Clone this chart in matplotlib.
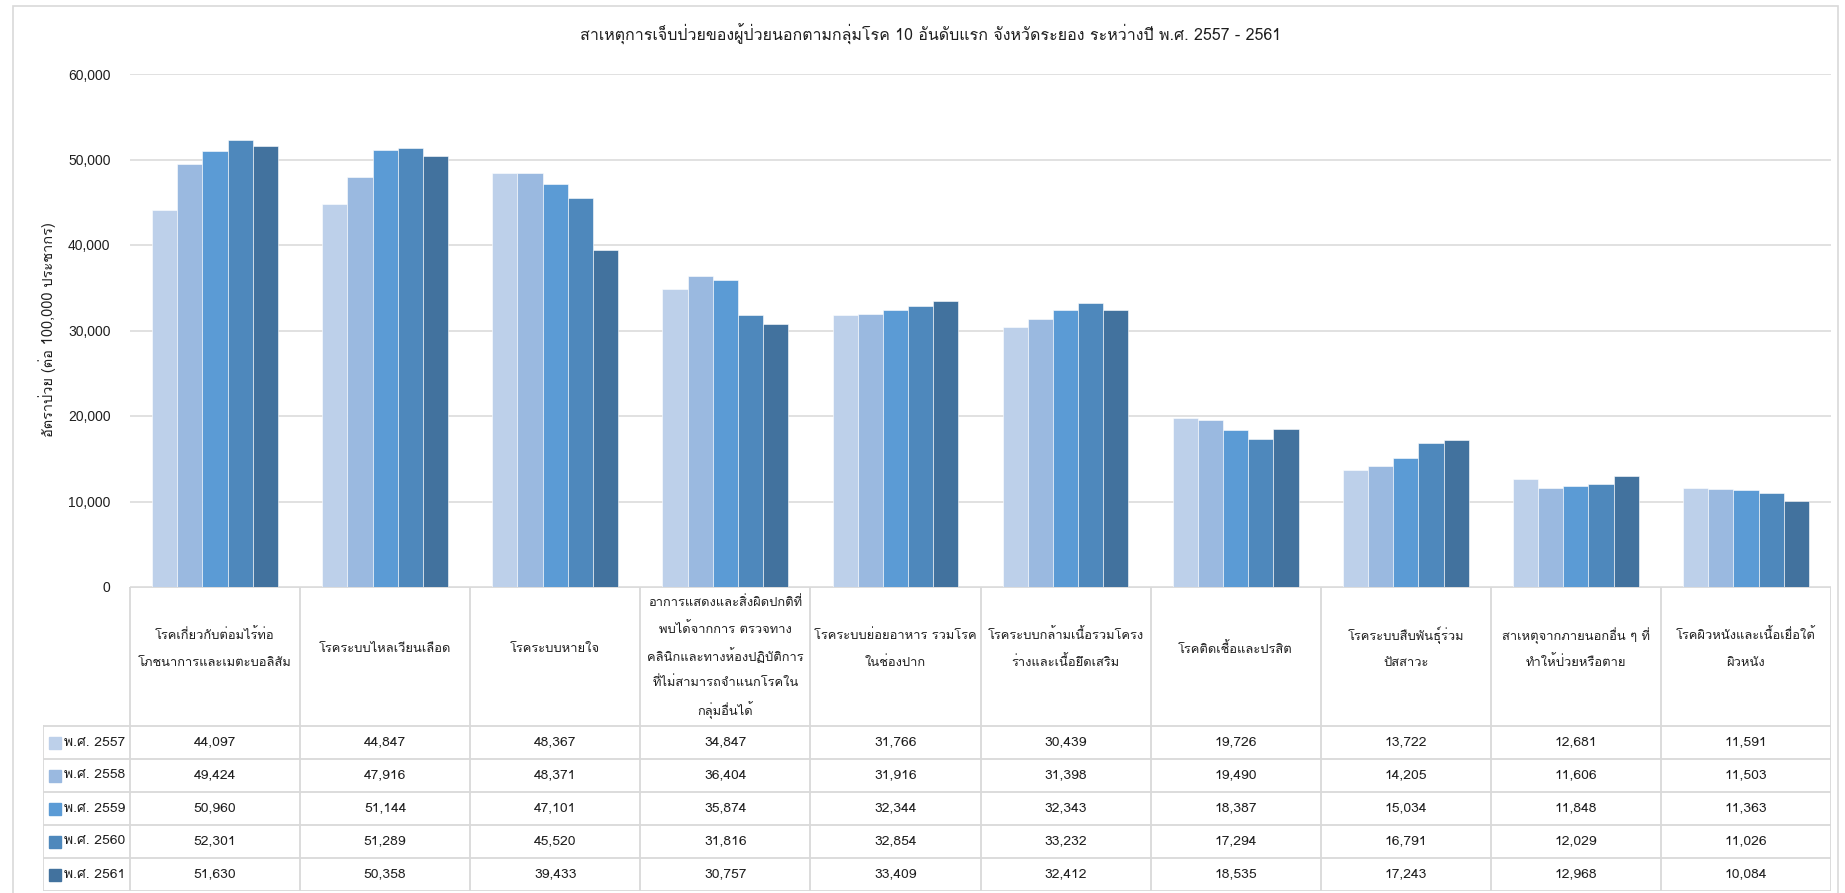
import matplotlib
matplotlib.use("Agg")
import matplotlib.pyplot as plt
from matplotlib.patches import Rectangle
from matplotlib.ticker import FuncFormatter, MultipleLocator

THAI = ["Loma", "Noto Sans Thai Looped", "Noto Sans Thai", "DejaVu Sans"]
plt.rcParams["font.family"] = THAI

# ---- data -------------------------------------------------------------
categories = [
    "โรคเกี่ยวกับต่อมไร้ท่อ\nโภชนาการและเมตะบอลิสัม",
    "โรคระบบไหลเวียนเลือด",
    "โรคระบบหายใจ",
    "อาการแสดงและสิ่งผิดปกติที่\nพบได้จากการ ตรวจทาง\nคลินิกและทางห้องปฏิบัติการ\nที่ไม่สามารถจำแนกโรคใน\nกลุ่มอื่นได้",
    "โรคระบบย่อยอาหาร รวมโรค\nในช่องปาก",
    "โรคระบบกล้ามเนื้อรวมโครง\nร่างและเนื้อยึดเสริม",
    "โรคติดเชื้อและปรสิต",
    "โรคระบบสืบพันธุ์ร่วม\nปัสสาวะ",
    "สาเหตุจากภายนอกอื่น ๆ ที่\nทำให้ป่วยหรือตาย",
    "โรคผิวหนังและเนื้อเยื่อใต้\nผิวหนัง",
]
years = ["พ.ศ. 2557", "พ.ศ. 2558", "พ.ศ. 2559", "พ.ศ. 2560", "พ.ศ. 2561"]

y2557 = [44097, 44847, 48367, 34847, 31766, 30439, 19726, 13722, 12681, 11591]
y2558 = [49424, 47916, 48371, 36404, 31916, 31398, 19490, 14205, 11606, 11503]
y2559 = [50960, 51144, 47101, 35874, 32344, 32343, 18387, 15034, 11848, 11363]
y2560 = [52301, 51289, 45520, 31816, 32854, 33232, 17294, 16791, 12029, 11026]
y2561 = [51630, 50358, 39433, 30757, 33409, 32412, 18535, 17243, 12968, 10084]
series = [y2557, y2558, y2559, y2560, y2561]

colors = ["#BDD0EA", "#9AB9E0", "#5B9BD5", "#4E88BC", "#42729E"]

title = "สาเหตุการเจ็บป่วยของผู้ป่วยนอกตามกลุ่มโรค 10 อันดับแรก จังหวัดระยอง ระหว่างปี พ.ศ. 2557 - 2561"
ylabel = "อัตราป่วย (ต่อ 100,000 ประชากร)"

# ---- layout (pixel based) --------------------------------------------
W, H = 1845, 893
fig = plt.figure(figsize=(W / 100, H / 100), dpi=100)
fig.patch.set_facecolor("white")

def box(l, t, r, b):
    return [l / W, 1 - b / H, (r - l) / W, (b - t) / H]

GRID = "#D9D9D9"
TEXT = "#1F1F1F"

# outer chart frame
fig.patches.append(Rectangle((13 / W, -0.05), (1838 - 13) / W, 1.05 - 6 / H,
                             transform=fig.transFigure, fill=False,
                             edgecolor=GRID, linewidth=1.2))

# ---- bar chart --------------------------------------------------------
ax = fig.add_axes(box(130, 74, 1831, 587))
n_cat = len(categories)
n_ser = len(series)
bw = 0.148
for j, (vals, col) in enumerate(zip(series, colors)):
    xs = [i + 0.5 + (j - (n_ser - 1) / 2) * bw for i in range(n_cat)]
    ax.bar(xs, vals, width=bw, color=col, edgecolor="white", linewidth=0.4, zorder=3)

ax.set_xlim(0, n_cat)
ax.set_ylim(0, 60000)
ax.yaxis.set_major_locator(MultipleLocator(10000))
ax.yaxis.set_major_formatter(FuncFormatter(lambda v, p: f"{int(v):,}"))
ax.grid(axis="y", color=GRID, linewidth=1.1, zorder=0)
ax.set_xticks([])
for s in ax.spines.values():
    s.set_visible(False)
ax.tick_params(axis="y", length=0, pad=14, labelsize=10, labelcolor=TEXT)
for lab in ax.get_yticklabels():
    lab.set_family(["Liberation Sans", "DejaVu Sans"])

fig.text(47 / W, 1 - 330 / H, ylabel, rotation=90, ha="center", va="center",
         fontsize=10.5, color=TEXT)
fig.text(931 / W, 1 - 34 / H, title, ha="center", va="center",
         fontsize=11.5, color=TEXT)

# ---- data table -------------------------------------------------------
cat_w = (1831 - 130) / n_cat
tab = fig.add_axes(box(43, 587, 1831, 891))
x0 = -(130 - 43) / cat_w
header_h = 139
row_h = 33
tab.set_xlim(x0, n_cat)
tab.set_ylim(header_h + row_h * n_ser, 0)
tab.axis("off")

lw = 1.3
tab.plot([0, n_cat], [0, 0], color=GRID, lw=lw)
for i in range(n_cat + 1):
    tab.plot([i, i], [0, header_h + row_h * n_ser], color=GRID, lw=lw)
tab.plot([x0, x0], [header_h, header_h + row_h * n_ser], color=GRID, lw=lw)
for k in range(n_ser + 1):
    y = header_h + k * row_h
    tab.plot([x0, n_cat], [y, y], color=GRID, lw=lw)

# header labels: one text per line so the line pitch stays even
line_pitch = 27
for i, cat in enumerate(categories):
    lines = cat.split("\n")
    n = len(lines)
    yc = 62 if n < 5 else 69
    for k, line in enumerate(lines):
        tab.text(i + 0.5, yc + (k - (n - 1) / 2) * line_pitch, line,
                 ha="center", va="center", fontsize=9.3, color=TEXT)

sw = 12 / cat_w
for k, (yr, vals, col) in enumerate(zip(years, series, colors)):
    yc = header_h + k * row_h + row_h / 2
    tab.add_patch(Rectangle((x0 + 6 / cat_w, yc - 6), sw, 12, color=col))
    tab.text(x0 + 21 / cat_w, yc, yr, ha="left", va="center", fontsize=10, color=TEXT)
    for i, v in enumerate(vals):
        tab.text(i + 0.5, yc, f"{v:,}", ha="center", va="center", fontsize=10, color=TEXT)

fig.savefig("out.png", dpi=100)
